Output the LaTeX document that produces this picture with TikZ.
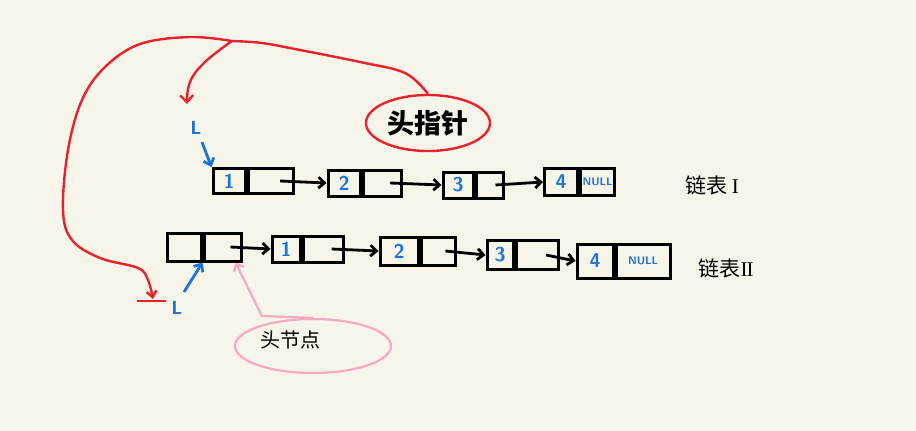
\documentclass[tikz,border=0pt]{standalone}
\usepackage{fontspec}
\newfontfamily\cjk{Noto Sans CJK SC}
\newfontfamily\rmnum{Liberation Serif}
\usetikzlibrary{arrows.meta,shapes.geometric,calc}
\definecolor{bgc}{HTML}{F7F5EA}
\definecolor{numblue}{HTML}{1A73D6}
\definecolor{penred}{HTML}{E8222B}
\definecolor{penpink}{HTML}{F5A9C2}
\tikzset{
  cell/.style={draw=black, line width=3pt, minimum height=25pt, inner sep=0pt,
    font=\sffamily\bfseries\fontsize{20}{20}\selectfont, text=numblue},
  link/.style={line width=2.8pt, -{Straight Barb[length=6pt,width=11pt]}},
  nulltxt/.style={font=\sffamily\bfseries\fontsize{11}{11}\selectfont},
  bluearrow/.style={draw=numblue, line width=2.8pt, -{Straight Barb[length=6pt,width=11pt]}},
  redpen/.style={draw=penred, line width=2.4pt},
  pinkpen/.style={draw=penpink, line width=2.2pt},
  lbl/.style={font=\cjk\fontsize{21}{21}\selectfont, text=black},
  lett/.style={text=numblue, font=\sffamily\bfseries\fontsize{19}{19}\selectfont},
}
\begin{document}
\begin{tikzpicture}[x=1pt,y=-1pt]
\fill[bgc] (0,0) rectangle (916,431);
\useasboundingbox (0,0) rectangle (916,431);

% list I
\node[cell, minimum width=32pt, minimum height=25pt] (a1d) at (229,181) {1};
\node[cell, minimum width=45pt, minimum height=25pt, anchor=west] (a1n) at (a1d.east) {};
\node[cell, minimum width=32pt, minimum height=26pt] (a2d) at (344,183) {2};
\node[cell, minimum width=38pt, minimum height=26pt, anchor=west] (a2n) at (a2d.east) {};
\node[cell, minimum width=30pt, minimum height=26pt] (a3d) at (458,185) {3};
\node[cell, minimum width=27pt, minimum height=26pt, anchor=west] (a3n) at (a3d.east) {};
\node[cell, minimum width=33pt, minimum height=27pt] (a4d) at (561,182) {4};
\node[cell, nulltxt, minimum width=34pt, minimum height=27pt, anchor=west] (a4n) at (a4d.east) {NULL};
\draw[link] ($(a1n.center)!0.4!(a1n.east)$) -- (a2d.west);
\draw[link] ($(a2n.center)!0.4!(a2n.east)$) -- (a3d.west);
\draw[link] ($(a3n.center)!0.4!(a3n.east)$) -- (a4d.west);
\node[lbl] (t1) at (712,185) {链表\ {\rmnum I}};

% list II
\node[cell, minimum width=34pt, minimum height=28pt] (h0d) at (184,247) {};
\node[cell, minimum width=37pt, minimum height=28pt, anchor=west] (h0n) at (h0d.east) {};
\node[cell, minimum width=28pt, minimum height=26pt] (b1d) at (286,249) {1};
\node[cell, minimum width=40pt, minimum height=26pt, anchor=west] (b1n) at (b1d.east) {};
\node[cell, minimum width=38pt, minimum height=28pt] (b2d) at (399,251) {2};
\node[cell, minimum width=34pt, minimum height=28pt, anchor=west] (b2n) at (b2d.east) {};
\node[cell, minimum width=26pt, minimum height=29pt] (b3d) at (500,255) {3};
\node[cell, minimum width=42pt, minimum height=29pt, anchor=west] (b3n) at (b3d.east) {};
\node[cell, minimum width=36pt, minimum height=34pt] (b4d) at (595,261) {4};
\node[cell, nulltxt, minimum width=54pt, minimum height=34pt, anchor=west] (b4n) at (b4d.east) {NULL};
\draw[link] ($(h0n.center)!0.4!(h0n.east)$) -- (b1d.west);
\draw[link] ($(b1n.center)!0.4!(b1n.east)$) -- (b2d.west);
\draw[link] ($(b2n.center)!0.4!(b2n.east)$) -- (b3d.west);
\draw[link] ($(b3n.center)!0.4!(b3n.east)$) -- (b4d.west);
\node[lbl] (t2) at (726,268) {链表{\rmnum I\kern-1pt I}};

% head pointer label
\node[draw=penred, line width=2.4pt, ellipse, minimum width=124pt, minimum height=56pt,
  font=\cjk\bfseries\fontsize{27}{27}\selectfont] (hp) at (428,123) {头指针};

% L pointers
\node[lett] (L1) at (196,128) {L};
\draw[bluearrow] (L1.south) ++(6,4) -- (a1d.north west);
\node[lett] (L2) at (177,308) {L};
\coordinate (L2s) at (184,292);
\draw[bluearrow] (L2s) -- (h0d.south east);

% red connectors
\coordinate (rb) at (232,41);
\coordinate (rtip1) at (187,104);
\coordinate (rtip2) at (153,299);
\draw[redpen] plot[smooth, tension=0.6] coordinates {(hp.north) (405,73) (360,62) (300,50) (262,43) (rb)};
\draw[redpen, -{Straight Barb[length=7pt,width=13pt]}] plot[smooth, tension=0.7] coordinates {(rb) (205,62) (190,82) (rtip1)};
\draw[redpen, -{Straight Barb[length=6pt,width=10pt]}] plot[smooth, tension=0.6] coordinates {(rb) (190,37) (140,44) (105,67) (82,100) (68,150) (63,210) (72,240) (100,258) (138,268) (148,280) (rtip2)};
\draw[redpen] (137,301) -- (166,301);

% head node label
\node[draw=penpink, line width=2.2pt, ellipse, minimum width=156pt, minimum height=54pt,
  inner sep=0pt] (tn) at (313,346) {};
\node[font=\cjk\fontsize{20}{20}\selectfont, text=black] (tnt) at (290,340) {头节点};
\coordinate (pk) at (262,316);
\draw[pinkpen, -{Straight Barb[length=6pt,width=11pt]}] (tn.north) -- (pk) -- ($(h0n.south)!0.65!(h0n.south east)$);
\end{tikzpicture}
\end{document}
